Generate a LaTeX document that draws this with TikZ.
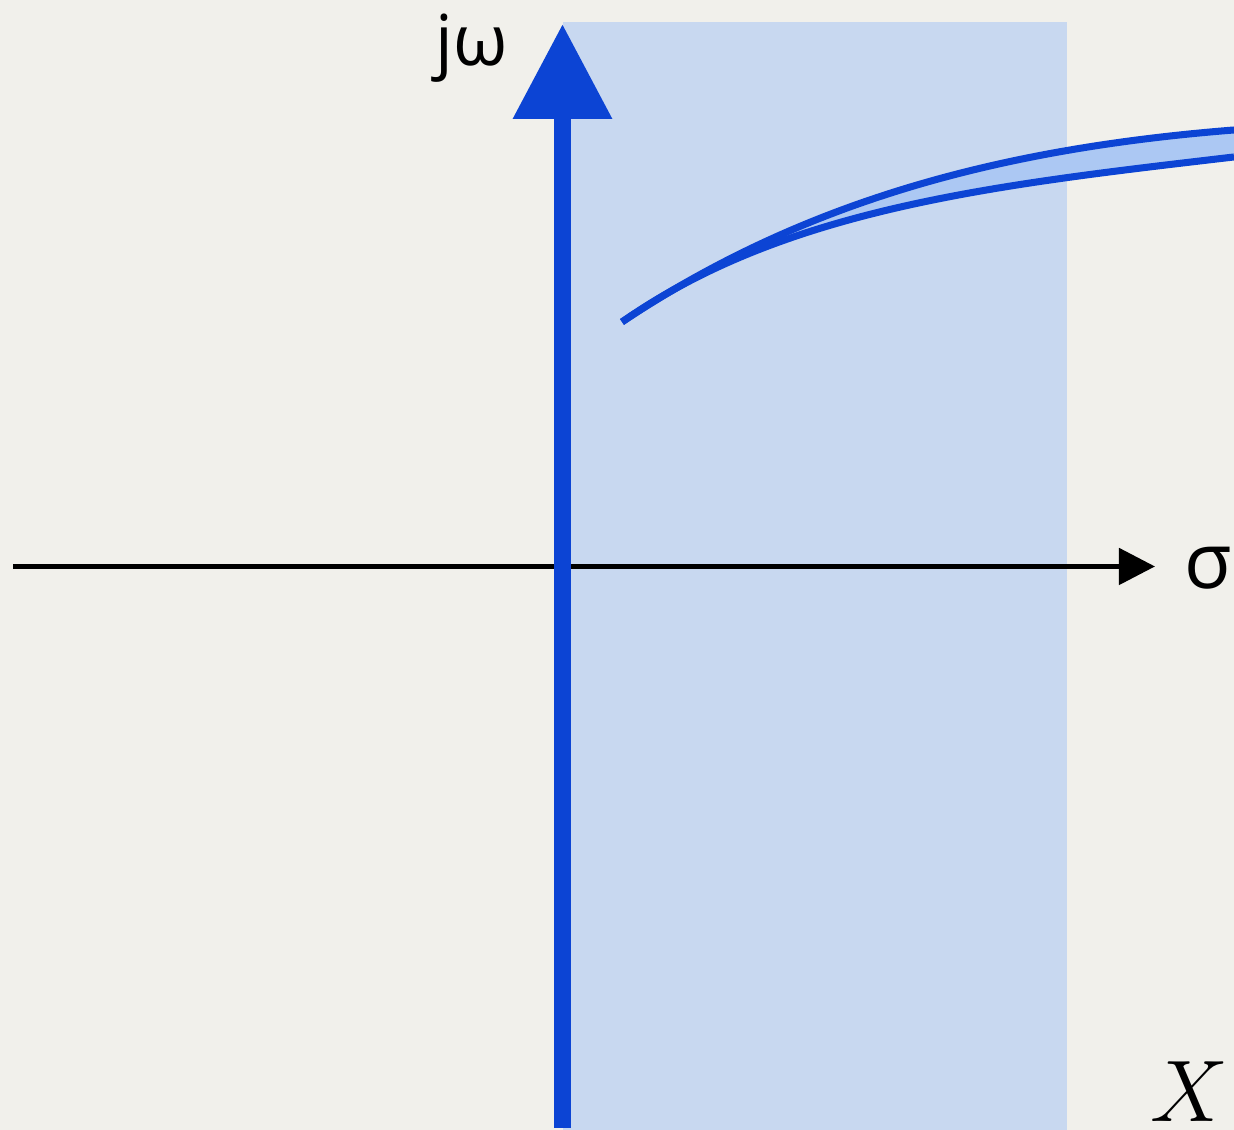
\documentclass[tikz,border=0pt]{standalone}
\usepackage{fontspec}
\setsansfont{Open Sans}
\usetikzlibrary{arrows.meta}
\definecolor{bgpaper}{RGB}{241,240,235}
\definecolor{regionblue}{RGB}{200,216,240}
\definecolor{ribbonblue}{RGB}{172,200,243}
\definecolor{axisblue}{RGB}{12,68,212}

\begin{document}
\begin{tikzpicture}[>=Stealth,font=\sffamily]

%% ── background ───────────────────────────────────────────────────────────────
\useasboundingbox (0,0) rectangle (12.34,11.3);
\fill[bgpaper] (0,0) rectangle (12.34,11.3);

%% ── shaded region of convergence ─────────────────────────────────────────────
\fill[regionblue] (5.63,0) rectangle (10.67,11.08);

%% ── axis end points ──────────────────────────────────────────────────────────
\coordinate (sigleft) at (0.13,5.635);
\coordinate (sigtip)  at (11.55,5.635);
\coordinate (jwbot)   at (5.625,0.02);
\coordinate (jwtip)   at (5.625,11.06);

%% ── real axis (black) ────────────────────────────────────────────────────────
\draw[black,line width=1.4pt,-{Triangle[length=0.36cm,width=0.36cm]}]
  (sigleft) -- (sigtip);

%% ── imaginary axis (blue, on top) ────────────────────────────────────────────
\draw[axisblue,line width=4.8pt,-{Triangle[length=0.95cm,width=0.95cm]}]
  (jwbot) -- (jwtip);

%% ── ribbon curve ─────────────────────────────────────────────────────────────
\coordinate (ribstart) at (6.22,8.08);
\fill[ribbonblue]
  (ribstart) .. controls (7.9,9.2) and (9.8,9.8) .. (12.34,10.0)
  -- (12.34,9.73) .. controls (9.95,9.45) and (7.85,9.22) .. (ribstart);
\draw[axisblue,line width=2pt]
  (ribstart) .. controls (7.9,9.2) and (9.8,9.8) .. (12.34,10.0);
\draw[axisblue,line width=2pt]
  (ribstart) .. controls (7.85,9.22) and (9.95,9.45) .. (12.34,9.73);

%% ── labels ───────────────────────────────────────────────────────────────────
\node[font=\sffamily\fontsize{20}{24}\selectfont] (jwlabel) at (4.72,10.82) {jω};
\node[font=\sffamily\fontsize{22}{26}\selectfont] (siglabel) at (12.08,5.62) {σ};
\node[font=\fontsize{26}{30}\selectfont,inner sep=0pt] (xlabel) at (11.89,0.385) {$X$};

\end{tikzpicture}
\end{document}
